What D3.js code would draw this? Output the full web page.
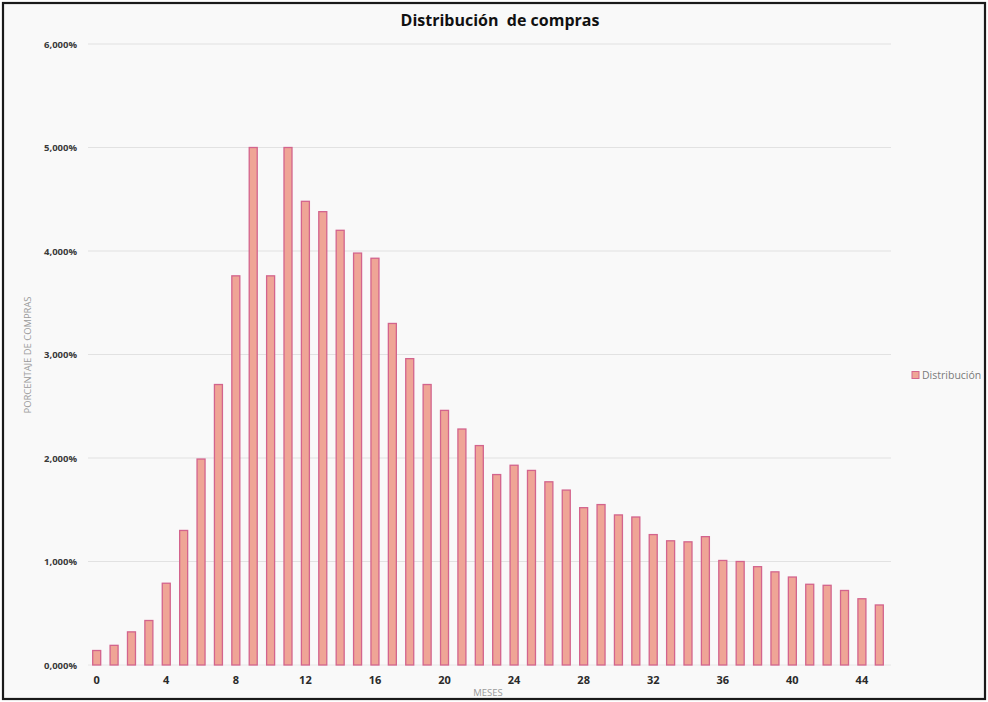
<!DOCTYPE html>
<html>
<head>
<meta charset="utf-8">
<script src="https://cdn.jsdelivr.net/npm/d3@7"></script>
<style>
  html, body { margin: 0; padding: 0; background: #ffffff; }
  svg { display: block; }
</style>
</head>
<body>
<svg id="chart" width="988" height="702"></svg>
<script>
// Months since first purchase and share of purchases (%) in each month
const months = d3.range(0, 46);
const shares = [
  0.14, 0.19, 0.32, 0.43, 0.79, 1.30, 1.99, 2.71, 3.76, 5.00,
  3.76, 5.00, 4.48, 4.38, 4.20, 3.98, 3.93, 3.30, 2.96, 2.71,
  2.46, 2.28, 2.12, 1.84, 1.93, 1.88, 1.77, 1.69, 1.52, 1.55,
  1.45, 1.43, 1.26, 1.20, 1.19, 1.24, 1.01, 1.00, 0.95, 0.90,
  0.85, 0.78, 0.77, 0.72, 0.64, 0.58
];
const yTicks = [0, 1, 2, 3, 4, 5, 6];
const xTicks = [0, 4, 8, 12, 16, 20, 24, 28, 32, 36, 40, 44];
const seriesName = "Distribución";

const svg = d3.select("#chart");
const W = 988, H = 702;

// frame and background
svg.append("rect").attr("x", 0).attr("y", 0).attr("width", W).attr("height", H).attr("fill", "#ffffff");
svg.append("rect").attr("x", 3).attr("y", 3).attr("width", 982).attr("height", 696)
  .attr("fill", "#f9f9f9");

const x = d3.scaleBand().domain(months).range([88, 888]).paddingInner(0.54).paddingOuter(0.27);
const y = d3.scaleLinear().domain([0, 6]).range([665, 44]);

const es = d3.formatLocale({ decimal: ",", thousands: ".", grouping: [3], currency: ["", "€"] });
const fmt = v => es.format(".3f")(v) + "%";

// horizontal grid
svg.append("g").selectAll("line").data(yTicks.filter(d => d > 0)).join("line")
  .attr("x1", 88).attr("x2", 891)
  .attr("y1", d => y(d)).attr("y2", d => y(d))
  .attr("stroke", "#e2e2e2").attr("stroke-width", 1.2);

// y axis labels
const yAxis = d3.axisLeft(y).tickValues(yTicks).tickFormat(fmt).tickSize(0).tickPadding(0);
const gy = svg.append("g").attr("transform", "translate(77,0)").call(yAxis);
gy.select(".domain").remove();
gy.selectAll("text")
  .attr("font-family", "'Open Sans', sans-serif").attr("font-weight", "bold")
  .attr("font-size", 9.5).attr("fill", "#3a3a3a");

// baseline
svg.append("line").attr("x1", 88).attr("x2", 891).attr("y1", y(0)).attr("y2", y(0))
  .attr("stroke", "#e6e6e6").attr("stroke-width", 1);

// bars
svg.append("g").selectAll("rect").data(months).join("rect")
  .attr("x", d => x(d))
  .attr("y", (d, i) => y(shares[i]))
  .attr("width", x.bandwidth())
  .attr("height", (d, i) => y(0) - y(shares[i]))
  .attr("fill", "#efa596")
  .attr("stroke", "#d3648d")
  .attr("stroke-width", 1.3);

// x axis labels
const xAxis = d3.axisBottom(x).tickValues(xTicks).tickSize(0).tickPadding(0);
const gx = svg.append("g").attr("transform", "translate(0,676)").call(xAxis);
gx.select(".domain").remove();
gx.selectAll("text")
  .attr("font-family", "'Open Sans', sans-serif").attr("font-weight", "bold")
  .attr("font-size", 11).attr("fill", "#2a2a2a");

// title
svg.append("text").attr("x", 500).attr("y", 26).attr("text-anchor", "middle")
  .attr("font-family", "'Open Sans', sans-serif").attr("font-weight", "bold")
  .attr("font-size", 16).attr("fill", "#111")
  .attr("xml:space", "preserve")
  .text("Distribución  de compras");

// axis titles
svg.append("text").attr("transform", "translate(31,355) rotate(-90)")
  .attr("text-anchor", "middle")
  .attr("font-family", "'Open Sans', sans-serif").attr("font-size", 8.5)
  .attr("fill", "#9a9a9a").attr("textLength", 117).attr("lengthAdjust", "spacingAndGlyphs")
  .text("PORCENTAJE DE COMPRAS");
svg.append("text").attr("x", 488).attr("y", 696).attr("text-anchor", "middle")
  .attr("font-family", "'Open Sans', sans-serif").attr("font-size", 9.5)
  .attr("fill", "#9a9a9a").text("MESES");

// legend
const lg = svg.append("g").attr("transform", "translate(912,375)");
lg.append("rect").attr("x", 0).attr("y", -3.5).attr("width", 7).attr("height", 7)
  .attr("fill", "#efa596").attr("stroke", "#d3648d").attr("stroke-width", 1);
lg.append("text").attr("x", 10).attr("y", 3.5)
  .attr("font-family", "'Open Sans', sans-serif").attr("font-size", 10.5)
  .attr("fill", "#7a7a7a").text(seriesName);

// outer frame
svg.append("rect").attr("x", 3).attr("y", 3).attr("width", 982).attr("height", 696)
  .attr("fill", "none").attr("stroke", "#1a1a1a").attr("stroke-width", 2.2);
</script>
</body>
</html>
